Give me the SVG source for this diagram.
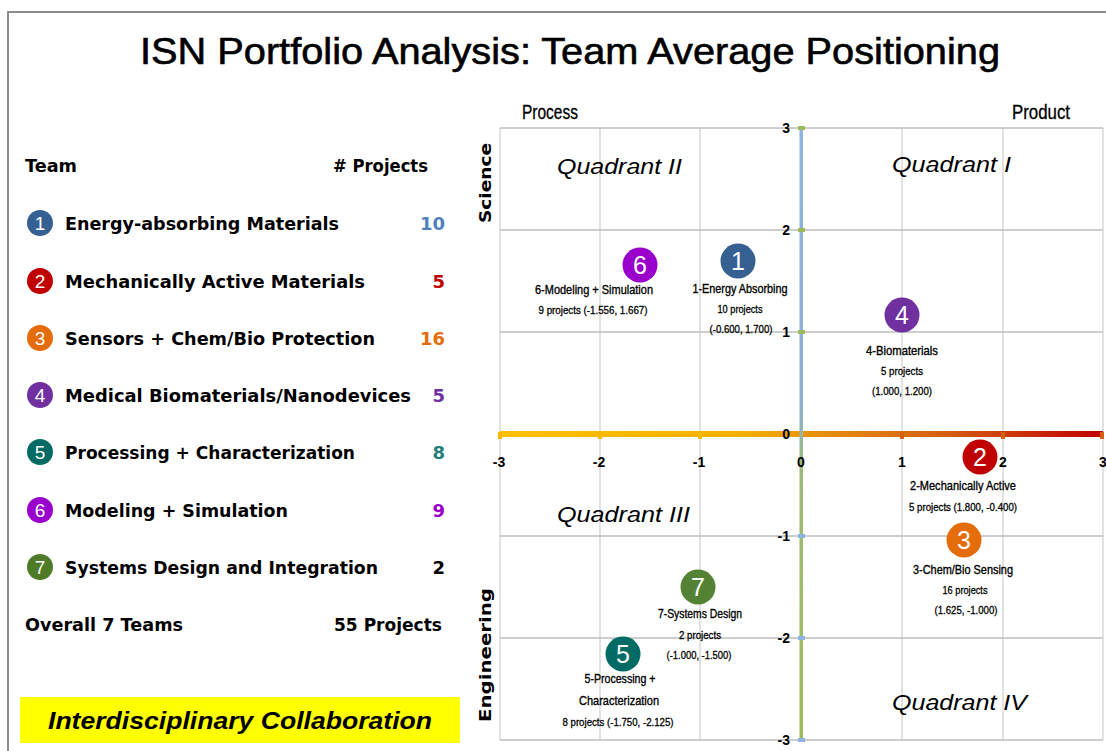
<svg xmlns="http://www.w3.org/2000/svg" width="1106" height="751" viewBox="0 0 1106 751">
<defs>
<linearGradient id="xaxis" x1="500" y1="0" x2="1103" y2="0" gradientUnits="userSpaceOnUse">
<stop offset="0" stop-color="#FFC000"/>
<stop offset="0.4" stop-color="#F5B000"/>
<stop offset="0.55" stop-color="#E58A10"/>
<stop offset="0.75" stop-color="#D45A10"/>
<stop offset="1" stop-color="#C00000"/>
</linearGradient>
<linearGradient id="yaxis" x1="0" y1="128" x2="0" y2="740" gradientUnits="userSpaceOnUse">
<stop offset="0" stop-color="#8EB4E3"/>
<stop offset="0.45" stop-color="#8EAFD5"/>
<stop offset="0.55" stop-color="#9DBB7A"/>
<stop offset="1" stop-color="#9BBB59"/>
</linearGradient>
<style>
.frame{fill:none;stroke:#8C8C8C;stroke-width:2}
.grid{stroke:#D9D9D9;stroke-width:1.5;fill:none}
.gridh{stroke:#BFBFBF;stroke-width:1.5;fill:none}
.title{font-family:"Liberation Sans",Arial,sans-serif;font-size:36px;fill:#000;stroke:#000;stroke-width:0.6}
.hdr{font-family:"DejaVu Sans",Verdana,sans-serif;font-weight:bold;font-size:18px;fill:#000}
.num{font-family:"DejaVu Sans",Verdana,sans-serif;font-weight:bold;font-size:18px;text-anchor:end}
.cnum{font-family:"Liberation Sans",Arial,sans-serif;font-size:19px;fill:#fff;text-anchor:middle}
.bnum{font-family:"Liberation Sans",Arial,sans-serif;font-size:25px;fill:#fff;text-anchor:middle}
.axl{font-family:"Liberation Sans",Arial,sans-serif;font-size:20px;fill:#000;stroke:#000;stroke-width:0.3}
.side{font-family:"DejaVu Sans",Verdana,sans-serif;font-weight:bold;font-size:15px;fill:#000;text-anchor:middle}
.quad{font-family:"Liberation Sans",Arial,sans-serif;font-style:italic;font-size:22px;fill:#000}
.tick{font-family:"Liberation Sans",Arial,sans-serif;font-weight:bold;font-size:14px;fill:#000}
.lb1{font-family:"Liberation Sans",Arial,sans-serif;font-size:13px;fill:#000;stroke:#000;stroke-width:0.35;text-anchor:middle}
.lb2{font-family:"Liberation Sans",Arial,sans-serif;font-size:11px;fill:#000;stroke:#000;stroke-width:0.3;text-anchor:middle}
.coll{font-family:"Liberation Sans",Arial,sans-serif;font-weight:bold;font-style:italic;font-size:24px;fill:#000;text-anchor:middle}
</style>
</defs>
<rect width="1106" height="751" fill="#fff"/>
<path class="frame" d="M8,751 V12 H1106"/>
<text class="title" x="140" y="64" textLength="860" lengthAdjust="spacingAndGlyphs">ISN Portfolio Analysis:  Team Average Positioning</text>

<g id="legend">
<text class="hdr" x="25" y="172" textLength="52" lengthAdjust="spacingAndGlyphs">Team</text>
<text class="hdr" x="333" y="172" textLength="95" lengthAdjust="spacingAndGlyphs"># Projects</text>
<g id="leg1"><circle cx="40" cy="223" r="13" fill="#376092"/><text class="cnum" x="40" y="230">1</text>
<text class="hdr" x="65" y="230" textLength="274" lengthAdjust="spacingAndGlyphs">Energy-absorbing  Materials</text>
<text class="num" x="445" y="230" fill="#4F81BD">10</text></g>
<g id="leg2"><circle cx="40" cy="281" r="13" fill="#C00000"/><text class="cnum" x="40" y="288">2</text>
<text class="hdr" x="65" y="288" textLength="300" lengthAdjust="spacingAndGlyphs">Mechanically  Active Materials</text>
<text class="num" x="445" y="288" fill="#C00000">5</text></g>
<g id="leg3"><circle cx="40" cy="338" r="13" fill="#E46C0A"/><text class="cnum" x="40" y="345">3</text>
<text class="hdr" x="65" y="345" textLength="310" lengthAdjust="spacingAndGlyphs">Sensors + Chem/Bio  Protection</text>
<text class="num" x="445" y="345" fill="#E46C0A">16</text></g>
<g id="leg4"><circle cx="40" cy="395" r="13" fill="#7030A0"/><text class="cnum" x="40" y="402">4</text>
<text class="hdr" x="65" y="402" textLength="346" lengthAdjust="spacingAndGlyphs">Medical Biomaterials/Nanodevices</text>
<text class="num" x="445" y="402" fill="#7030A0">5</text></g>
<g id="leg5"><circle cx="40" cy="452" r="13" fill="#006B64"/><text class="cnum" x="40" y="459">5</text>
<text class="hdr" x="65" y="459" textLength="290" lengthAdjust="spacingAndGlyphs">Processing + Characterization</text>
<text class="num" x="445" y="459" fill="#1F7F7A">8</text></g>
<g id="leg6"><circle cx="40" cy="510" r="13" fill="#9900CC"/><text class="cnum" x="40" y="517">6</text>
<text class="hdr" x="65" y="517" textLength="223" lengthAdjust="spacingAndGlyphs">Modeling + Simulation</text>
<text class="num" x="445" y="517" fill="#9900CC">9</text></g>
<g id="leg7"><circle cx="40" cy="567" r="13" fill="#4F7A28"/><text class="cnum" x="40" y="574">7</text>
<text class="hdr" x="65" y="574" textLength="313" lengthAdjust="spacingAndGlyphs">Systems Design and Integration</text>
<text class="num" x="445" y="574" fill="#000">2</text></g>
<text class="hdr" x="25" y="631" textLength="158" lengthAdjust="spacingAndGlyphs">Overall 7 Teams</text>
<text class="hdr" x="334" y="631" textLength="108" lengthAdjust="spacingAndGlyphs">55 Projects</text>
</g>

<g id="collab">
<rect x="20" y="697" width="440" height="46" fill="#FFFF00"/>
<text class="coll" x="240" y="729" textLength="384" lengthAdjust="spacingAndGlyphs">Interdisciplinary Collaboration</text>
</g>

<g id="chart">
<path class="grid" d="M500,128 V740 M600,128 V740 M700,128 V740 M902,128 V740 M1003,128 V740 M1103,128 V740"/>
<path class="gridh" d="M500,128 H1103 M500,230 H1103 M500,332 H1103 M500,536 H1103 M500,638 H1103 M500,740 H1103"/>
<rect x="500" y="431" width="603" height="6" fill="url(#xaxis)"/>
<rect x="799.5" y="128" width="3.5" height="612" fill="url(#yaxis)"/>
<g fill="#F5B800">
<rect x="498" y="432" width="4" height="7"/><rect x="598" y="432" width="4" height="7"/><rect x="698" y="432" width="4" height="7"/>
</g>
<g fill="#D46010">
<rect x="900" y="432" width="4" height="7"/><rect x="1001" y="432" width="4" height="7"/><rect x="1100" y="432" width="4" height="7"/>
</g>
<g fill="#9BBB59">
<rect x="798" y="126" width="7" height="4"/><rect x="798" y="228" width="7" height="4"/><rect x="798" y="330" width="7" height="4"/>
</g>
<g fill="#8EB4E3">
<rect x="798" y="534" width="7" height="4"/><rect x="798" y="636" width="7" height="4"/><rect x="798" y="738" width="7" height="4"/>
</g>
<g class="tick" text-anchor="end">
<text x="790" y="133">3</text><text x="790" y="235">2</text><text x="790" y="337">1</text><text x="790" y="439">0</text>
<text x="790" y="541">-1</text><text x="790" y="643">-2</text><text x="790" y="745">-3</text>
</g>
<g class="tick" text-anchor="middle">
<text x="499" y="467">-3</text><text x="599" y="467">-2</text><text x="699" y="467">-1</text><text x="801" y="467">0</text>
<text x="902" y="467">1</text><text x="1003" y="467">2</text><text x="1103" y="467">3</text>
</g>
<text class="axl" x="522" y="119" textLength="56" lengthAdjust="spacingAndGlyphs">Process</text>
<text class="axl" x="1012" y="119" textLength="58" lengthAdjust="spacingAndGlyphs">Product</text>
<text class="side" transform="translate(491,183) rotate(-90)" textLength="80" lengthAdjust="spacingAndGlyphs">Science</text>
<text class="side" transform="translate(491,655) rotate(-90)" textLength="134" lengthAdjust="spacingAndGlyphs">Engineering</text>
<text class="quad" x="557" y="174" textLength="125" lengthAdjust="spacingAndGlyphs">Quadrant II</text>
<text class="quad" x="892" y="172" textLength="119" lengthAdjust="spacingAndGlyphs">Quadrant I</text>
<text class="quad" x="557" y="522" textLength="133" lengthAdjust="spacingAndGlyphs">Quadrant III</text>
<text class="quad" x="892" y="710" textLength="135" lengthAdjust="spacingAndGlyphs">Quadrant IV</text>
</g>

<g id="team6">
<circle cx="640" cy="265" r="17.5" fill="#9900CC"/><text class="bnum" x="640" y="274">6</text>
<text class="lb1" x="594" y="294" textLength="118" lengthAdjust="spacingAndGlyphs">6-Modeling + Simulation</text>
<text class="lb2" x="593" y="314" textLength="109" lengthAdjust="spacingAndGlyphs">9 projects (-1.556, 1.667)</text>
</g>
<g id="team1">
<circle cx="738" cy="261" r="17.5" fill="#376092"/><text class="bnum" x="738" y="270">1</text>
<text class="lb1" x="740" y="293" textLength="95" lengthAdjust="spacingAndGlyphs">1-Energy Absorbing</text>
<text class="lb2" x="740" y="313" textLength="45" lengthAdjust="spacingAndGlyphs">10 projects</text>
<text class="lb2" x="741" y="333" textLength="63" lengthAdjust="spacingAndGlyphs">(-0.600, 1.700)</text>
</g>
<g id="team4">
<circle cx="902" cy="315" r="17.5" fill="#7030A0"/><text class="bnum" x="902" y="324">4</text>
<text class="lb1" x="902" y="355" textLength="72" lengthAdjust="spacingAndGlyphs">4-Biomaterials</text>
<text class="lb2" x="902" y="375" textLength="42" lengthAdjust="spacingAndGlyphs">5 projects</text>
<text class="lb2" x="902" y="395" textLength="60" lengthAdjust="spacingAndGlyphs">(1.000, 1.200)</text>
</g>
<g id="team2">
<circle cx="980" cy="457" r="17.5" fill="#C00000"/><text class="bnum" x="980" y="466">2</text>
<text class="lb1" x="963" y="490" textLength="106" lengthAdjust="spacingAndGlyphs">2-Mechanically Active</text>
<text class="lb2" x="963" y="511" textLength="108" lengthAdjust="spacingAndGlyphs">5 projects (1.800, -0.400)</text>
</g>
<g id="team3">
<circle cx="964" cy="540" r="17.5" fill="#E46C0A"/><text class="bnum" x="964" y="549">3</text>
<text class="lb1" x="963" y="574" textLength="100" lengthAdjust="spacingAndGlyphs">3-Chem/Bio Sensing</text>
<text class="lb2" x="965" y="594" textLength="45" lengthAdjust="spacingAndGlyphs">16 projects</text>
<text class="lb2" x="966" y="614" textLength="63" lengthAdjust="spacingAndGlyphs">(1.625, -1.000)</text>
</g>
<g id="team7">
<circle cx="698" cy="587" r="17.5" fill="#548235"/><text class="bnum" x="698" y="596">7</text>
<text class="lb1" x="700" y="618" textLength="84" lengthAdjust="spacingAndGlyphs">7-Systems Design</text>
<text class="lb2" x="700" y="639" textLength="42" lengthAdjust="spacingAndGlyphs">2 projects</text>
<text class="lb2" x="699" y="659" textLength="65" lengthAdjust="spacingAndGlyphs">(-1.000, -1.500)</text>
</g>
<g id="team5">
<circle cx="623" cy="654" r="17.5" fill="#006B64"/><text class="bnum" x="623" y="663">5</text>
<text class="lb1" x="620" y="683" textLength="71" lengthAdjust="spacingAndGlyphs">5-Processing +</text>
<text class="lb1" x="619" y="705" textLength="80" lengthAdjust="spacingAndGlyphs">Characterization</text>
<text class="lb2" x="618" y="726" textLength="111" lengthAdjust="spacingAndGlyphs">8 projects (-1.750, -2.125)</text>
</g>
<g id="connectors"></g>
</svg>
